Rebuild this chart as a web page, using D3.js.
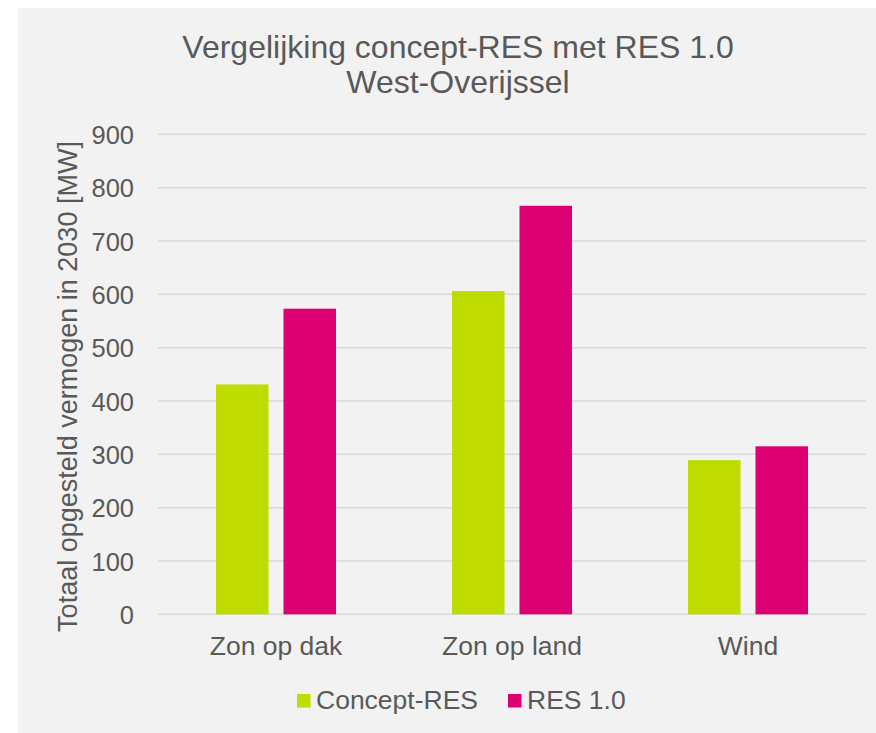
<!DOCTYPE html>
<html>
<head>
<meta charset="utf-8">
<script src="https://cdn.jsdelivr.net/npm/d3@7"></script>
<style>
  html, body { margin: 0; padding: 0; background: #ffffff; }
  svg { display: block; font-family: "Liberation Sans", Arial, sans-serif; }
</style>
</head>
<body>
<div id="chart"></div>
<script>
// ---- data ----
var categories = ["Zon op dak", "Zon op land", "Wind"];
var seriesNames = ["Concept-RES", "RES 1.0"];
var conceptRes = [431, 606, 289];
var res10 = [573, 766, 315];
var yTicks = [0, 100, 200, 300, 400, 500, 600, 700, 800, 900];
var titleLines = ["Vergelijking concept-RES met RES 1.0", "West-Overijssel"];
var yTitle = "Totaal opgesteld vermogen in 2030 [MW]";

var colors = { "Concept-RES": "#bedc00", "RES 1.0": "#dc0073" };
var textColor = "#595959";

// ---- frame ----
var W = 876, H = 733;
var plot = { left: 158, right: 866, top: 134.3, bottom: 614.3 };

var svg = d3.select("#chart").append("svg").attr("width", W).attr("height", H);

// panel background
svg.append("rect").attr("x", 18).attr("y", 8).attr("width", W - 18).attr("height", H - 8)
  .attr("fill", "#f2f2f2");

// ---- scales ----
var x0 = d3.scaleBand().domain(categories).range([plot.left, plot.right]).padding(0);
var x1 = d3.scaleBand().domain(seriesNames).range([0, x0.bandwidth()])
  .paddingInner(0.222).paddingOuter(0.859);
var y = d3.scaleLinear().domain([0, 900]).range([plot.bottom, plot.top]);

// ---- gridlines ----
svg.append("g").selectAll("line").data(yTicks).enter().append("line")
  .attr("x1", plot.left).attr("x2", plot.right)
  .attr("y1", function (d) { return y(d); })
  .attr("y2", function (d) { return y(d); })
  .attr("stroke", "#d9d9d9").attr("stroke-width", 1.5);

// ---- y axis labels ----
var yAxis = svg.append("g").attr("transform", "translate(" + (plot.left - 24) + ",0)")
  .call(d3.axisLeft(y).tickValues(yTicks).tickSize(0).tickPadding(0));
yAxis.select(".domain").remove();
yAxis.selectAll("text")
  .attr("font-family", "Liberation Sans, Arial, sans-serif")
  .attr("font-size", 25.5).attr("fill", textColor).attr("dy", "0.36em");

// ---- x axis labels ----
var xAxis = svg.append("g").attr("transform", "translate(0," + plot.bottom + ")")
  .call(d3.axisBottom(x0).tickSize(0).tickPadding(0));
xAxis.select(".domain").remove();
xAxis.selectAll("text")
  .attr("font-family", "Liberation Sans, Arial, sans-serif")
  .attr("font-size", 26.5).attr("fill", textColor).attr("dy", "1.54em");

// ---- bars ----
var rows = categories.map(function (c, i) {
  return { cat: c, vals: [
    { key: "Concept-RES", v: conceptRes[i] },
    { key: "RES 1.0", v: res10[i] }
  ] };
});
var groups = svg.append("g").selectAll("g").data(rows).enter().append("g")
  .attr("transform", function (d) { return "translate(" + x0(d.cat) + ",0)"; });
groups.selectAll("rect").data(function (d) { return d.vals; }).enter().append("rect")
  .attr("x", function (d) { return x1(d.key); })
  .attr("width", x1.bandwidth())
  .attr("y", function (d) { return y(d.v); })
  .attr("height", function (d) { return y(0) - y(d.v); })
  .attr("fill", function (d) { return colors[d.key]; });

// ---- title ----
svg.append("g").selectAll("text").data(titleLines).enter().append("text")
  .attr("x", 458).attr("y", function (d, i) { return 58 + i * 35; })
  .attr("text-anchor", "middle").attr("font-size", 32).attr("fill", textColor)
  .text(function (d) { return d; });

// ---- y title ----
svg.append("text")
  .attr("transform", "translate(77,386.5) rotate(-90)")
  .attr("text-anchor", "middle").attr("font-size", 27).attr("fill", textColor)
  .text(yTitle);

// ---- legend ----
var legend = svg.append("g").attr("transform", "translate(297,694)");
var legX = [0, 211];
seriesNames.forEach(function (s, i) {
  legend.append("rect").attr("x", legX[i]).attr("y", 0).attr("width", 13.5).attr("height", 13.5)
    .attr("fill", colors[s]);
  legend.append("text").attr("x", legX[i] + 19).attr("y", 15)
    .attr("font-size", 26.5).attr("fill", textColor).text(s);
});
</script>
</body>
</html>
